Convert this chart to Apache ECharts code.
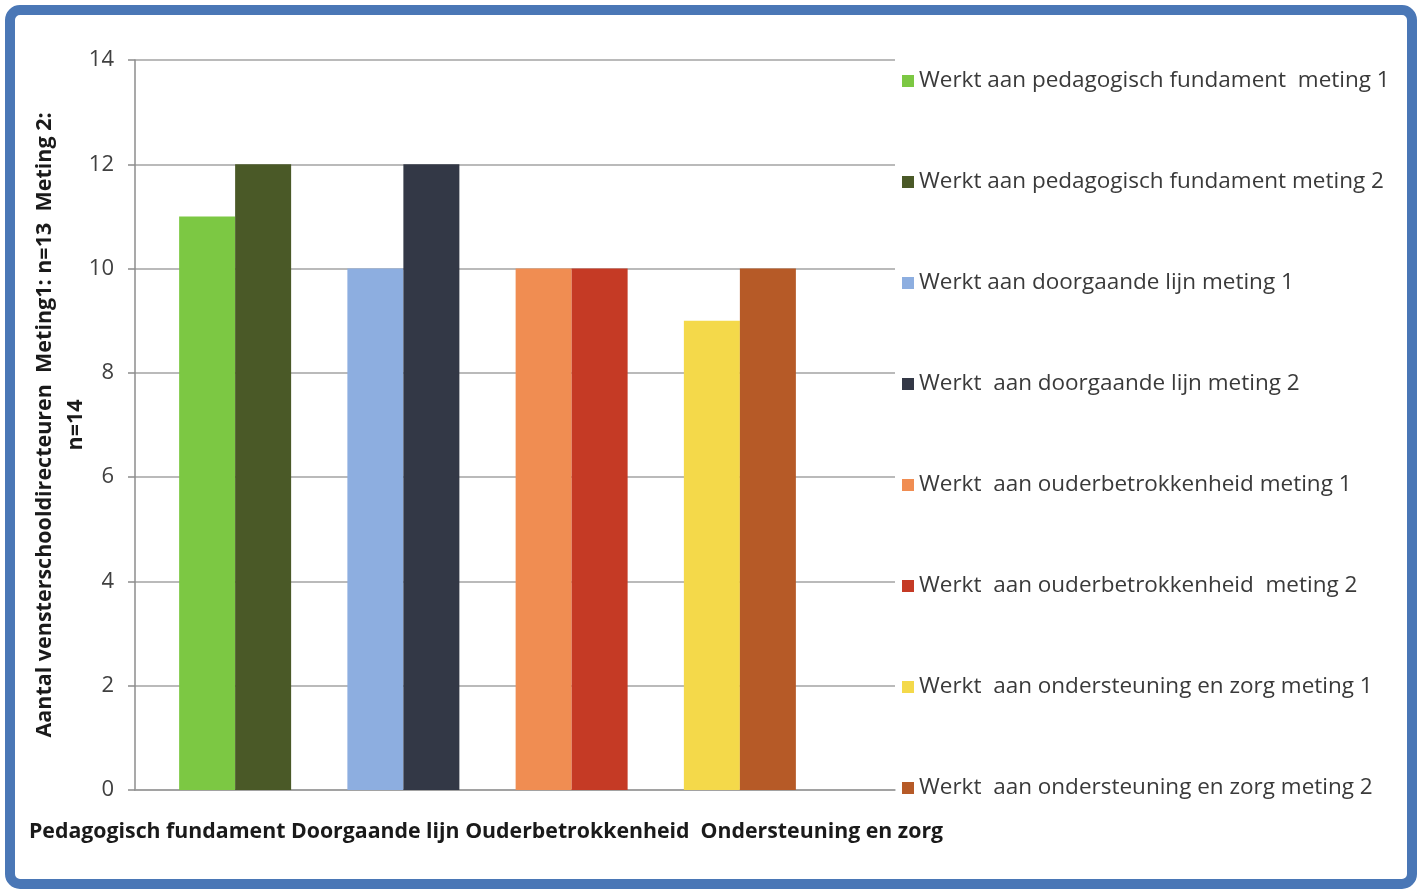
<!DOCTYPE html>
<html>
<head>
<meta charset="utf-8">
<script src="https://cdn.jsdelivr.net/npm/echarts@6/dist/echarts.min.js"></script>
<style>
  html, body { margin: 0; padding: 0; background: #ffffff; }
  #chart { width: 1419px; height: 889px; }
</style>
</head>
<body>
<div id="chart"></div>
<script>
// ---- data ----
const categories = ['Pedagogisch fundament', 'Doorgaande lijn', 'Ouderbetrokkenheid', 'Ondersteuning en zorg'];
const categorySeparators = [' ', ' ', '  '];
const meting1 = [11, 10, 10, 9];
const meting2 = [12, 12, 10, 10];
const seriesNames = [
  'Werkt aan pedagogisch fundament  meting 1',
  'Werkt aan pedagogisch fundament meting 2',
  'Werkt aan doorgaande lijn meting 1',
  'Werkt  aan doorgaande lijn meting 2',
  'Werkt  aan ouderbetrokkenheid meting 1',
  'Werkt  aan ouderbetrokkenheid  meting 2',
  'Werkt  aan ondersteuning en zorg meting 1',
  'Werkt  aan ondersteuning en zorg meting 2'
];
const yTicks = [0, 2, 4, 6, 8, 10, 12, 14];
const yAxisTitle = 'Aantal vensterschooldirecteuren  Meting1: n=13  Meting 2:\nn=14';

// ---- styles ----
const colors = ['#7cc843', '#4a5927', '#8daee0', '#333846', '#f08d52', '#c53a25', '#f4d94a', '#b65a27'];
const labelFont = '"Open Sans", Lato, sans-serif';

let xText = categories[0];
for (let i = 1; i < categories.length; i++) xText += categorySeparators[i - 1] + categories[i];

const series = seriesNames.map((name, i) => {
  const c = Math.floor(i / 2);
  const vals = (i % 2 === 0) ? meting1 : meting2;
  return {
    name: name,
    type: 'bar',
    xAxisIndex: 1,
    yAxisIndex: 1,
    stack: (i % 2 === 0) ? 'm1' : 'm2',
    barWidth: 56,
    barGap: '0%',
    itemStyle: { color: colors[i] },
    data: categories.map((_, j) => (j === c ? vals[c] : '-'))
  };
});

const chart = echarts.init(document.getElementById('chart'));
chart.setOption({
  animation: false,
  backgroundColor: '#ffffff',
  graphic: [{
    type: 'rect',
    z: -10,
    shape: { x: 10, y: 10, width: 1402, height: 874, r: 10 },
    style: { fill: '#ffffff', stroke: '#4a77b6', lineWidth: 10 }
  }],
  title: {
    text: xText,
    left: 24,
    top: 816,
    textStyle: { fontFamily: labelFont, fontWeight: 'bold', fontSize: 21.3, color: '#1a1a1a' }
  },
  legend: {
    orient: 'vertical',
    left: 897,
    top: 64,
    itemGap: 77,
    itemWidth: 12,
    itemHeight: 12,
    icon: 'rect',
    textStyle: { fontFamily: labelFont, fontSize: 22.5, lineHeight: 24, color: '#3a3a3a' },
    data: seriesNames
  },
  grid: [
    { left: 135, top: 60, width: 760, height: 730 },
    { left: 151, top: 60, width: 673, height: 730 }
  ],
  xAxis: [
    {
      type: 'category', gridIndex: 0, data: categories,
      axisLine: { show: true, lineStyle: { color: '#9a9a9a', width: 1.5 } },
      axisTick: { show: false }, axisLabel: { show: false }
    },
    {
      type: 'category', gridIndex: 1, data: categories,
      axisLine: { show: false }, axisTick: { show: false }, axisLabel: { show: false }
    }
  ],
  yAxis: [
    {
      type: 'value', gridIndex: 0, min: yTicks[0], max: yTicks[yTicks.length - 1], interval: 2,
      name: yAxisTitle,
      nameLocation: 'middle',
      nameGap: 44,
      nameMoveOverlap: false,
      nameRotate: 90,
      nameTextStyle: { fontFamily: labelFont, fontWeight: 'bold', fontSize: 21.5, lineHeight: 31, color: '#1a1a1a', align: 'center' },
      axisLine: { show: true, lineStyle: { color: '#8c8c8c', width: 1.5 } },
      axisTick: { show: true, length: 7, lineStyle: { color: '#8c8c8c', width: 1.5 } },
      axisLabel: { margin: 21, fontFamily: labelFont, fontSize: 22, color: '#404040' },
      splitLine: { show: true, lineStyle: { color: '#a3a3a3', width: 1.5 } }
    },
    {
      type: 'value', gridIndex: 1, min: yTicks[0], max: yTicks[yTicks.length - 1], interval: 2,
      show: false, splitLine: { show: false }
    }
  ],
  series: series
});
</script>
</body>
</html>
